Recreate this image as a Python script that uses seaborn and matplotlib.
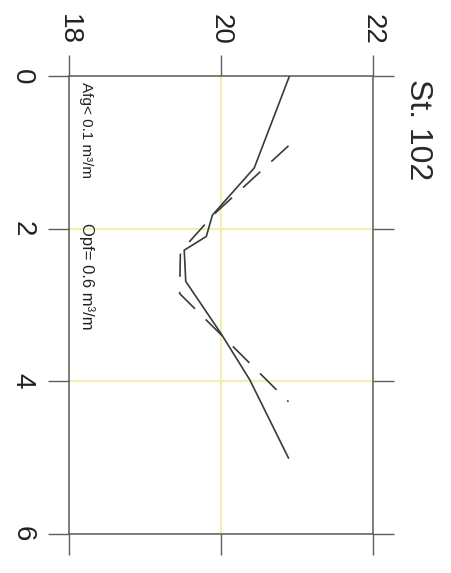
import matplotlib
matplotlib.use("Agg")
import matplotlib.pyplot as plt
import seaborn as sns
import pandas as pd

# Temperature profiles (value vs. depth) for station 102
depth_solid = [0.0, 1.2, 1.82, 2.1, 2.28, 2.69, 3.37, 3.98, 5.01]
temp_solid = [20.9, 20.44, 19.89, 19.81, 19.52, 19.54, 20.0, 20.38, 20.89]

depth_dashed = [0.91, 1.8, 2.3, 2.85, 4.27]
temp_dashed = [20.89, 19.92, 19.47, 19.46, 20.89]

value_ticks = [18, 20, 22]
depth_ticks = [0, 2, 4, 6]

title_text = "St. 102"
note_afg = "Afg< 0.1 m³/m"
note_opf = "Opf= 0.6 m³/m"

sns.set_theme(style="white")
plt.rcParams["font.family"] = ["Liberation Sans", "DejaVu Sans"]

line_color = "#3a3a3a"
frame_color = "#5c5c5c"
grid_color = "#f4edb0"

fig = plt.figure(figsize=(4.51, 5.73), dpi=100)
ax = fig.add_axes([0.1519, 0.0689, 0.6752, 0.7976])

solid = pd.DataFrame({"temp": temp_solid, "depth": depth_solid})
dashed = pd.DataFrame({"temp": temp_dashed, "depth": depth_dashed})

sns.lineplot(data=solid, x="temp", y="depth", sort=False, estimator=None,
             color=line_color, lw=1.2, ax=ax, zorder=3)
sns.lineplot(data=dashed, x="temp", y="depth", sort=False, estimator=None,
             color=line_color, lw=1.2, linestyle=(0, (14, 9)), ax=ax, zorder=3)

ax.set_xlim(18, 22)
ax.set_ylim(6, 0)
ax.set_xticks(value_ticks)
ax.set_yticks(depth_ticks)
ax.set_xlabel("")
ax.set_ylabel("")

ax.grid(True, color=grid_color, lw=1.5, zorder=0)
ax.set_axisbelow(True)

for sp in ax.spines.values():
    sp.set_visible(True)
    sp.set_color(frame_color)
    sp.set_linewidth(1.1)

ax.tick_params(axis="x", which="both", top=True, bottom=True,
               labeltop=True, labelbottom=False, direction="out",
               length=15, width=1.0, color=frame_color, pad=8,
               labelsize=20, labelcolor="#222222", labelrotation=-90)
ax.tick_params(axis="y", which="both", left=True, right=True,
               labelleft=True, labelright=False, direction="out",
               length=15, width=1.0, color=frame_color, pad=9,
               labelsize=20, labelcolor="#222222", labelrotation=-90)

for lab in ax.get_xticklabels():
    lab.set_ha("center")
    lab.set_va("bottom")
for lab in ax.get_yticklabels():
    lab.set_ha("right")
    lab.set_va("center")

ax.text(1.148, 0.995, title_text, transform=ax.transAxes, rotation=-90,
        ha="center", va="top", fontsize=23, color="#2a2a2a")
ax.text(0.059, 0.987, note_afg, transform=ax.transAxes, rotation=-90,
        ha="center", va="top", fontsize=11, color="#222222")
ax.text(0.059, 0.679, note_opf, transform=ax.transAxes, rotation=-90,
        ha="center", va="top", fontsize=12, color="#222222")

fig.savefig("out.png", dpi=100, facecolor="white")
